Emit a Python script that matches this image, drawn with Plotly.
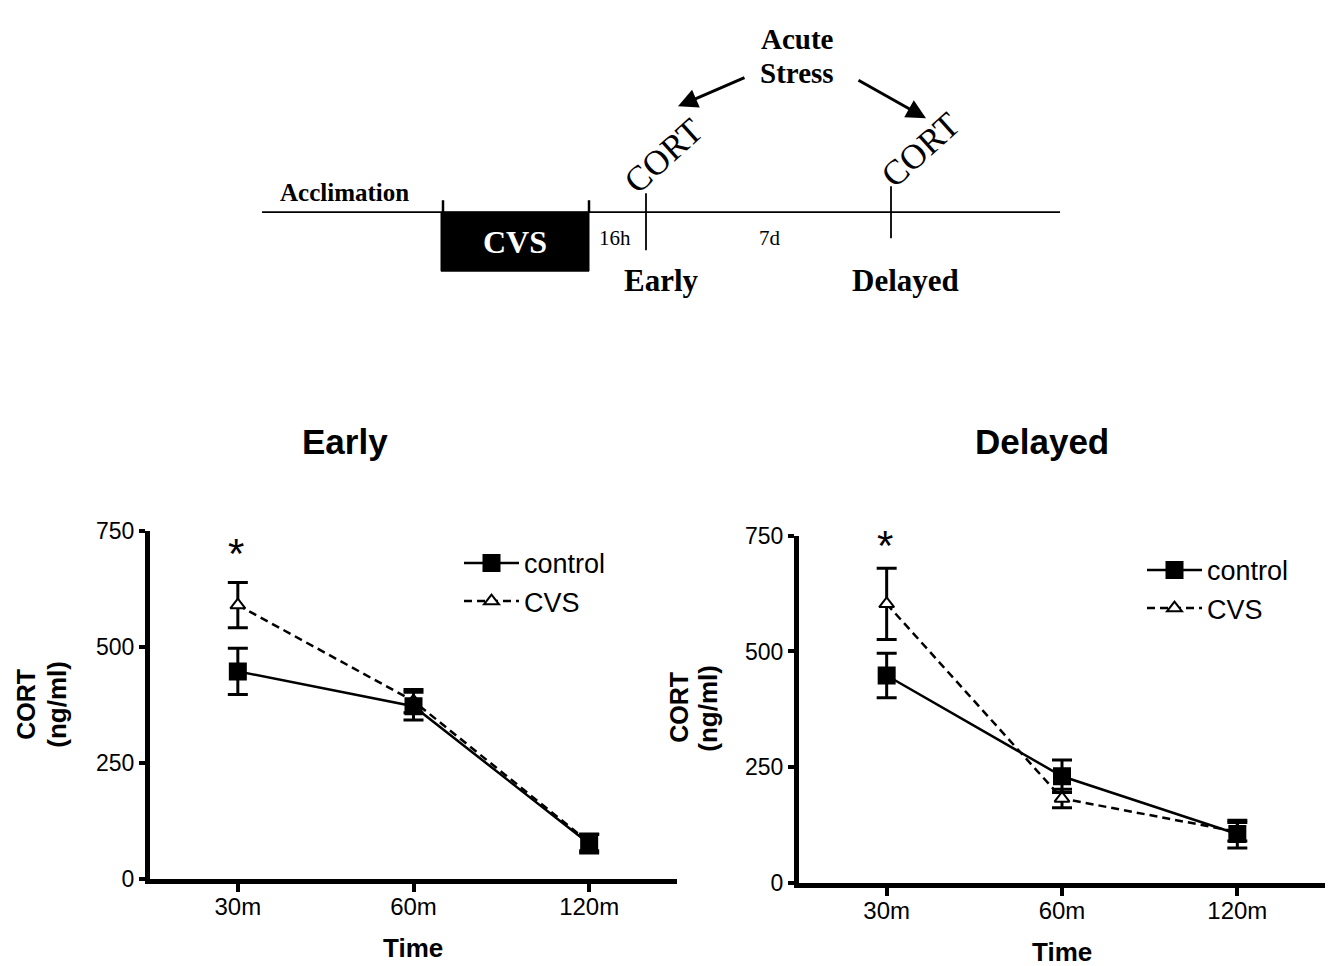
import plotly.graph_objects as go

# ---------------- data ----------------
times = ["30m", "60m", "120m"]
early_control = [447, 372, 75]
early_control_err = [50, 30, 20]
early_cvs = [590, 383, 78]
early_cvs_err = [49, 25, 18]
delayed_control = [448, 230, 105]
delayed_control_err = [48, 35, 30]
delayed_cvs = [603, 182, 110]
delayed_cvs_err = [77, 20, 20]
y_ticks = [0, 250, 500, 750]

W, H = 1335, 966
# map a target-picture pixel position to paper coordinates (accounts for page offset)
def P(x):
    return (x - 8) / W
def Q(y):
    return 1 - ((y - 20.6) / 0.974) / H

SANS = "Liberation Sans, Arial, sans-serif"
NARROW = "Liberation Sans Narrow, Arial Narrow, Liberation Sans, Arial, sans-serif"
SERIF = "Liberation Serif, Times New Roman, serif"

fig = go.Figure()

def add_series(xa, ya, y, err, name, dash, symbol, mcolor, legend, rank):
    fig.add_trace(go.Scatter(
        x=times, y=y, xaxis=xa, yaxis=ya, name=name, mode="lines+markers",
        line=dict(color="black", width=2.5, dash=dash),
        marker=dict(symbol=symbol, size=16 if symbol == "square" else 13, color=mcolor,
                    line=dict(color="black", width=2)),
        error_y=dict(type="data", array=err, visible=True, color="black", thickness=3, width=10),
        legend=legend, legendrank=rank, showlegend=True,
    ))

DASH = "8px,5px"
add_series("x", "y", early_cvs, early_cvs_err, "CVS", DASH, "triangle-up", "white", "legend", 2)
add_series("x", "y", early_control, early_control_err, "control", "solid", "square", "black", "legend", 1)
add_series("x2", "y2", delayed_cvs, delayed_cvs_err, "CVS", DASH, "triangle-up", "white", "legend2", 2)
add_series("x2", "y2", delayed_control, delayed_control_err, "control", "solid", "square", "black", "legend2", 1)

axis_x = dict(type="category", categoryorder="array", categoryarray=times,
              range=[-0.5, 2.5], showline=True, linewidth=5, linecolor="black",
              ticks="outside", ticklen=8, tickwidth=4, tickcolor="black",
              ticklabelstandoff=-5,
              tickfont=dict(family=NARROW, size=24, color="black"),
              showgrid=False, zeroline=False, fixedrange=True)
axis_y = dict(range=[0, 750], tickvals=y_ticks, showline=True, linewidth=5, linecolor="black",
              ticks="outside", ticklen=6, tickwidth=4, tickcolor="black",
              tickfont=dict(family=NARROW, size=23, color="black"),
              showgrid=False, zeroline=False, fixedrange=True)

leg = dict(xanchor="left", yanchor="top", bgcolor="rgba(0,0,0,0)",
           font=dict(family=SANS, size=27, color="black"), traceorder="grouped",
           tracegroupgap=7, itemwidth=55)

fig.update_layout(
    width=W, height=H, margin=dict(l=0, r=0, t=0, b=0),
    paper_bgcolor="white", plot_bgcolor="white",
    xaxis=dict(axis_x, domain=[P(150), P(677)], anchor="y"),
    yaxis=dict(axis_y, domain=[Q(879), Q(531)], anchor="x"),
    xaxis2=dict(axis_x, domain=[P(799), P(1325)], anchor="y2"),
    yaxis2=dict(axis_y, domain=[Q(883), Q(536)], anchor="x2"),
    legend=dict(leg, x=P(459), y=Q(539)),
    legend2=dict(leg, x=P(1142), y=Q(546)),
    showlegend=True,
)

ann = []
def text(x, y, s, size, family=SANS, bold=False, color="black", angle=0, yanchor="middle", ypaper=None):
    ann.append(dict(x=P(x), y=Q(y) if ypaper is None else ypaper, xref="paper", yref="paper",
                    text=f"<b>{s}</b>" if bold else s,
                    showarrow=False, textangle=angle, xanchor="center", yanchor=yanchor,
                    font=dict(family=family, size=size, color=color)))

# chart titles and axis titles
text(345, 441, "Early", 35, bold=True)
text(1042, 441, "Delayed", 35, bold=True)
text(413, 948, "Time", 26, bold=True)
text(1062, 952, "Time", 26, bold=True)
text(26, 705, "CORT", 25, bold=True, angle=-90)
text(57, 705, "(ng/ml)", 26, bold=True, angle=-90)
text(679, 708, "CORT", 25, bold=True, angle=-90)
text(708, 708, "(ng/ml)", 26, bold=True, angle=-90)

# significance asterisks above the 30m points
text(236, 554, "*", 42)
text(885, 546, "*", 42)

# timeline diagram
text(345, 192, "Acclimation", 25, family=SERIF, bold=True)
text(515, 242, "CVS", 32, family=SERIF, bold=True, color="white")
text(615, 238, "16h", 21, family=SERIF)
text(770, 238, "7d", 21, family=SERIF)
text(661, 280, "Early", 31, family=SERIF, bold=True)
text(906, 280, "Delayed", 31, family=SERIF, bold=True)
text(797, 0, "Acute", 29, family=SERIF, bold=True, yanchor="top", ypaper=1.0)
text(797, 73, "Stress", 29, family=SERIF, bold=True)
text(663, 156, "CORT", 35, family=SERIF, angle=-42)
text(920, 150, "CORT", 35, family=SERIF, angle=-42)

for hx, hy, tx, ty in [(678, 106, 746, 76), (926, 118, 857, 78)]:
    ann.append(dict(x=P(hx), y=Q(hy), xref="paper", yref="paper",
                    ax=tx - hx, ay=(ty - hy) * 0.974,
                    axref="pixel", ayref="pixel", text="", showarrow=True,
                    arrowhead=2, arrowsize=1.3, arrowwidth=3, arrowcolor="black"))

fig.update_layout(annotations=ann)

shapes = []
def line(x0, y0, x1, y1, w=1.8):
    shapes.append(dict(type="line", xref="paper", yref="paper", x0=P(x0), y0=Q(y0), x1=P(x1), y1=Q(y1),
                       line=dict(color="black", width=w)))
line(262, 212, 1060, 212)
shapes.append(dict(type="rect", xref="paper", yref="paper", x0=P(441), y0=Q(271), x1=P(589), y1=Q(212),
                   fillcolor="black", line=dict(color="black", width=1)))
line(443, 200, 443, 212, 2.5)
line(589, 200, 589, 212, 2.5)
line(646, 193, 646, 250)
line(891, 186, 891, 238)
fig.update_layout(shapes=shapes)

fig.write_html("out.html")
